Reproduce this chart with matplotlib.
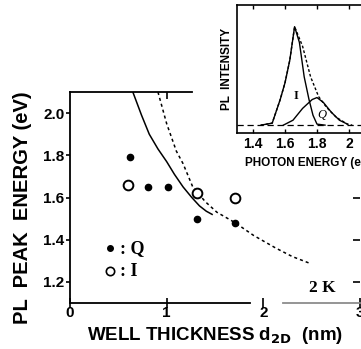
import matplotlib.pyplot as plt
import numpy as np

plt.rcParams['font.family'] = ['Liberation Sans', 'DejaVu Sans']

# PL peak energy vs well thickness (2 K)
q_thick = [0.62, 0.81, 1.01, 1.31, 1.71]
q_energy = [1.79, 1.65, 1.65, 1.50, 1.48]
i_thick = [0.60, 1.31, 1.71]
i_energy = [1.66, 1.62, 1.60]

# calculated curves
solid_thick = [0.65, 0.74, 0.82, 0.91, 1.00, 1.08, 1.17, 1.26, 1.34, 1.41, 1.47]
solid_energy = [2.10, 1.99, 1.90, 1.83, 1.77, 1.71, 1.65, 1.60, 1.56, 1.535, 1.52]
dash_thick = [0.91, 1.00, 1.10, 1.17, 1.27, 1.40, 1.52, 1.71, 1.90, 2.13, 2.30, 2.47]
dash_energy = [2.10, 1.95, 1.82, 1.76, 1.65, 1.58, 1.53, 1.48, 1.42, 1.36, 1.32, 1.29]

# inset: PL spectrum decomposed into I and Q bands
spec_e_i = [1.45, 1.52, 1.57, 1.60, 1.63, 1.66, 1.69, 1.72, 1.75, 1.775, 1.80, 1.85]
spec_i = [0.0, 0.02, 0.26, 0.43, 0.66, 1.0, 0.84, 0.49, 0.26, 0.10, 0.01, 0.0]
spec_e_q = [1.59, 1.65, 1.71, 1.77, 1.80, 1.84, 1.89, 1.94, 1.99]
spec_q = [0.0, 0.05, 0.17, 0.26, 0.28, 0.23, 0.13, 0.05, 0.01]
spec_e_tot = [1.45, 1.52, 1.57, 1.60, 1.63, 1.66, 1.71, 1.76, 1.81, 1.86, 1.92, 1.99, 2.02]
spec_tot = [0.0, 0.02, 0.26, 0.43, 0.66, 1.0, 0.80, 0.49, 0.29, 0.18, 0.08, 0.01, 0.0]

fig = plt.figure(figsize=(3.61, 3.49), dpi=100)
ax = fig.add_axes([70 / 361, 46 / 349, 290 / 361, 211 / 349])

ax.plot(solid_thick, solid_energy, color='black', lw=1.1)
ax.plot(dash_thick, dash_energy, color='black', lw=1.1, linestyle=(0, (2, 2)))
ax.plot(q_thick, q_energy, 'o', color='black', ms=4.5)
ax.plot(i_thick, i_energy, 'o', mfc='white', mec='black', mew=1.4, ms=7)

# legend drawn by hand
ax.plot([0.41], [1.36], 'o', color='black', ms=4)
ax.plot([0.41], [1.25], 'o', mfc='white', mec='black', mew=1.2, ms=6)
ax.text(0.52, 1.36, ': Q', family='Liberation Serif', fontweight='bold',
        fontsize=13, va='center')
ax.text(0.52, 1.25, ': I', family='Liberation Serif', fontweight='bold',
        fontsize=13, va='center')
ax.text(2.61, 1.17, '2 K', family='Liberation Serif', fontweight='bold',
        fontsize=12.5, ha='center', va='center')

ax.set_xlim(0, 3)
ax.set_ylim(1.1, 2.1)
ax.set_xticks([0, 1, 2, 3])
ax.set_yticks([1.2, 1.4, 1.6, 1.8, 2.0])
ax.set_yticklabels(['1.2', '1.4', '1.6', '1.8', '2.0'])
ax.tick_params(axis='y', direction='out', length=3, width=1.2, labelsize=11, pad=1)
ax.tick_params(axis='x', direction='inout', length=7, width=1.2, labelsize=11, pad=-1)
for lab in ax.get_xticklabels() + ax.get_yticklabels():
    lab.set_fontweight('bold')

ax.spines['right'].set_visible(False)
ax.spines['top'].set_bounds(0, 1.26)
ax.spines['bottom'].set_bounds(0, 1.86)
for s in ['left', 'top', 'bottom']:
    ax.spines[s].set_linewidth(1.3)
ax.axhline(1.1, xmin=2.2 / 3, xmax=1, color='0.55', lw=1.3, clip_on=False)

top = ax.secondary_xaxis('top')
top.set_xticks([1])
top.set_xticklabels([])
top.tick_params(direction='in', length=5, width=1.2)
top.spines['top'].set_visible(False)

right = ax.secondary_yaxis('right')
right.set_yticks([1.2, 1.4, 1.6])
right.set_yticklabels([])
right.tick_params(direction='in', length=5, width=1.2)
right.spines['right'].set_visible(False)

ax.set_xlabel(r'WELL THICKNESS d$_{\mathbf{2D}}$  (nm)', fontsize=13.5,
              fontweight='bold', labelpad=3)
ax.set_ylabel('PL  PEAK  ENERGY (eV)', fontsize=14.5, fontweight='bold')
ax.yaxis.set_label_coords(-0.13, 0.45)

# inset spectrum
ins = fig.add_axes([237 / 361, 216 / 349, 144 / 361, 128 / 349])
ins.set_facecolor('white')
ins.plot(spec_e_tot, spec_tot, color='black', lw=1.0, linestyle=(0, (2, 1.5)))
ins.plot(spec_e_i, spec_i, color='black', lw=1.0)
ins.plot(spec_e_q, spec_q, color='black', lw=1.0)
ins.axhline(0, color='black', lw=0.9, linestyle=(0, (5, 3)))
ins.text(1.67, 0.30, 'I', family='Liberation Serif', fontweight='bold',
         fontsize=9, ha='center', va='center')
ins.text(1.83, 0.10, 'Q', family='Liberation Serif', fontsize=9,
         fontstyle='italic', ha='center', va='center')
ins.set_xlim(1.3, 2.2)
ins.set_ylim(-0.08, 1.22)
ins.set_xticks([1.4, 1.6, 1.8, 2.0])
ins.set_xticklabels(['1.4', '1.6', '1.8', '2'])
ins.set_yticks([])
ins.tick_params(axis='x', direction='in', top=True, length=3, width=1.0,
                labelsize=10, pad=3)
for lab in ins.get_xticklabels():
    lab.set_fontweight('bold')
for s in ins.spines.values():
    s.set_linewidth(1.2)
ins.set_xlabel('PHOTON ENERGY (eV)', fontsize=8.5, fontweight='bold', labelpad=4)
ins.set_ylabel('PL  INTENSITY', fontsize=8.5, fontweight='bold', labelpad=3)

fig.savefig('out.png', dpi=100)
